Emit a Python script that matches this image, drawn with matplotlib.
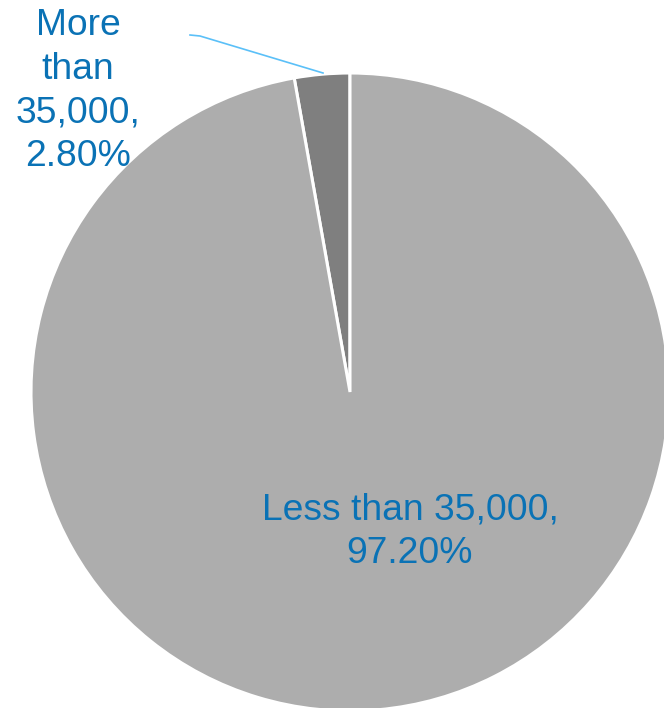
import matplotlib.pyplot as plt

labels = ['More than 35,000', 'Less than 35,000']
shares = [2.80, 97.20]
colors = ['#7f7f7f', '#adadad']
label_text = ['More\nthan\n35,000,\n2.80%', 'Less than 35,000,\n97.20%']

W, H = 664, 708
fig = plt.figure(figsize=(W / 100, H / 100), dpi=100)
ax = fig.add_axes([0, 0, 1, 1])

cx, cy, r = 350, H - 392, 319
ax.pie(shares, colors=colors, startangle=90, counterclock=True,
       center=(cx, cy), radius=r, frame=True,
       wedgeprops=dict(edgecolor='white', linewidth=2.2))
ax.set_xlim(0, W)
ax.set_ylim(0, H)
ax.axis('off')

txt_color = '#0a72b5'
font = dict(family=['Liberation Sans', 'DejaVu Sans'], fontsize=26.8, color=txt_color,
            ha='center', va='center', linespacing=1.32)
ax.text(78, H - 91, label_text[0], **font)
ax.text(410, H - 532, label_text[1], **font)

# leader line for the small slice
ax.plot([190, 200, 323], [H - 35, H - 36, H - 73], color='#5bc0f8', lw=1.2)

fig.savefig('out.png', dpi=100)
